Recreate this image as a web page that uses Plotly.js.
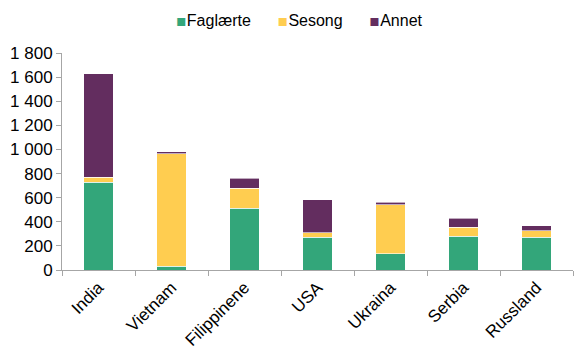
<!DOCTYPE html>
<html><head><meta charset="utf-8">
<script src="https://cdn.plot.ly/plotly-3.0.1.min.js"></script>
<style>html,body{margin:0;padding:0;background:#fff}#c{width:586px;height:360px}</style>
</head><body><div id="c"></div>
<script>
const categories = ["India","Vietnam","Filippinene","USA","Ukraina","Serbia","Russland"];
const faglaerte = [727, 30, 514, 271, 135, 279, 271];
const sesong    = [44, 934, 163, 36, 407, 75, 55];
const annet     = [856, 17, 86, 276, 19, 77, 41];
const seriesNames = ["Faglærte","Sesong","Annet"];
const colors = ["#33A67A","#FFCD50","#632D5F"];
const vals = [faglaerte, sesong, annet];
const traces = vals.map((v,i)=>({
  type:"bar", name:seriesNames[i], x:categories, y:v,
  marker:{color:colors[i], line:{color:"rgba(255,255,255,0.6)", width:1}}
}));
const gap = "\u00A0\u00A0\u00A0\u00A0\u00A0\u00A0";
const legendText = seriesNames.map((n,i)=>
  `<span style="color:${colors[i]};font-family:DejaVu Sans;font-size:16px">▪</span>${n}`).join(gap);
const layout = {
  width:586, height:360,
  margin:{l:62, r:13, t:53, b:90},
  barmode:"stack", bargap:0.59,
  separators:", ",
  font:{family:"Liberation Sans, Arial, sans-serif", size:16, color:"#000"},
  paper_bgcolor:"#fff", plot_bgcolor:"#fff",
  showlegend:false,
  annotations:[{xref:"paper", yref:"paper", x:(299-62)/511, y:1+(53-21)/217,
    xanchor:"center", yanchor:"middle", showarrow:false, text:legendText,
    font:{size:16, color:"#000"}}],
  xaxis:{type:"category", tickangle:-45, showline:true, linecolor:"#A6A6A6", linewidth:1,
    ticks:"outside", tickson:"boundaries", ticklen:5, tickcolor:"#A6A6A6", showgrid:false,
    tickfont:{size:17}},
  yaxis:{range:[0,1800], dtick:200, showline:true, linecolor:"#A6A6A6", linewidth:1,
    ticks:"outside", ticklen:5, tickcolor:"#A6A6A6", showgrid:false, zeroline:false,
    separatethousands:true, tickfont:{size:17}}
};
Plotly.newPlot("c", traces, layout, {displayModeBar:false, staticPlot:true});
</script></body></html>
